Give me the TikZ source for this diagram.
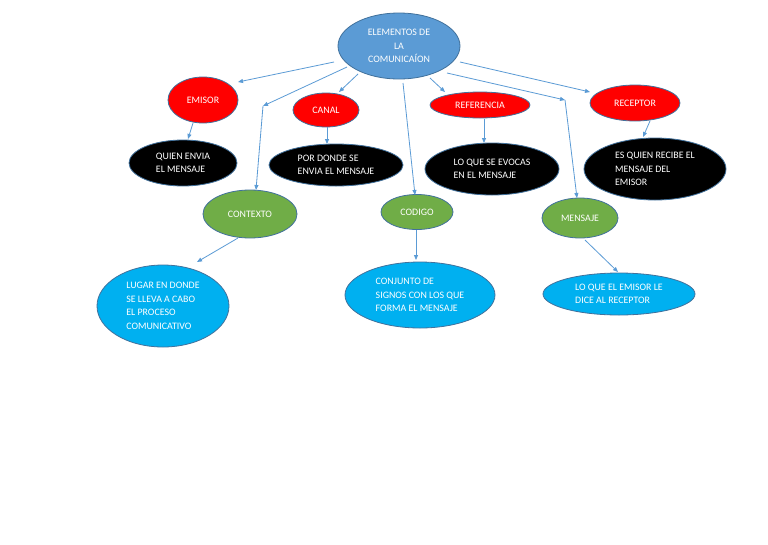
\documentclass[tikz,border=0pt]{standalone}
\usepackage{fontspec}
\setmainfont{Carlito}
\usetikzlibrary{arrows.meta,calc,shapes.geometric}
\definecolor{topblue}{HTML}{5B9BD5}
\definecolor{edgeblue}{HTML}{41719C}
\definecolor{arrblue}{HTML}{5B9BD5}
\definecolor{redf}{HTML}{FF0000}
\definecolor{greenf}{HTML}{70AD47}
\definecolor{cyanf}{HTML}{00B0F0}
\tikzset{
  ell/.style={ellipse, draw=edgeblue, line width=0.8pt, inner sep=0pt, text=white,
    font=\fontsize{9.9}{13.5}\selectfont, align=left},
  ctr/.style={ell, align=center},
  arr/.style={draw=arrblue, line width=0.8pt, -{Triangle[length=5pt,width=4pt]}},
  seg/.style={draw=arrblue, line width=0.8pt}
}
\begin{document}
\begin{tikzpicture}[x=1pt,y=-1pt]
\useasboundingbox (0,0) rectangle (768,544);
\fill[white] (0,0) rectangle (768,544);
% main
\node[ctr, fill=topblue, minimum width=122, minimum height=66] (top) at (399,46) {ELEMENTOS DE\\LA\\COMUNICAÍON};
% red
\node[ctr, fill=redf, minimum width=70, minimum height=46] (emisor) at (203,100) {EMISOR};
\node[ctr, fill=redf, minimum width=66, minimum height=34] (canal) at (326,110) {CANAL};
\node[ctr, fill=redf, minimum width=100, minimum height=26] (referencia) at (480,105) {REFERENCIA};
\node[ctr, fill=redf, minimum width=90, minimum height=36] (receptor) at (635,103) {RECEPTOR};
% black
\node[ell, fill=black, minimum width=108, minimum height=46] (quien) at (183,163) {QUIEN ENVIA\\EL MENSAJE};
\node[ell, fill=black, minimum width=134, minimum height=42] (pordonde) at (336,165) {POR DONDE SE\\ENVIA EL MENSAJE};
\node[ell, fill=black, minimum width=134, minimum height=52] (evocas) at (492,169) {LO QUE SE EVOCAS\\EN EL MENSAJE};
\node[ell, fill=black, minimum width=142, minimum height=62] (recibe) at (655,169) {ES QUIEN RECIBE EL\\MENSAJE DEL\\EMISOR};
% green
\node[ctr, fill=greenf, minimum width=94, minimum height=48] (contexto) at (250,214) {CONTEXTO};
\node[ctr, fill=greenf, minimum width=72, minimum height=35] (codigo) at (417,212) {CODIGO};
\node[ctr, fill=greenf, minimum width=76, minimum height=40] (mensaje) at (580,218) {MENSAJE};
% cyan
\node[ell, fill=cyanf, minimum width=132, minimum height=82] (lugar) at (163,306) {LUGAR EN DONDE\\SE LLEVA A CABO\\EL PROCESO\\COMUNICATIVO};
\node[ell, fill=cyanf, minimum width=150, minimum height=66] (conjunto) at (420,295) {CONJUNTO DE\\SIGNOS CON LOS QUE\\FORMA EL MENSAJE};
\node[ell, fill=cyanf, minimum width=152, minimum height=42] (loque) at (619,294) {LO QUE EL EMISOR LE\\DICE AL RECEPTOR};
% elbow points
\coordinate (elbowX) at (263,106);
\coordinate (elbowM) at (565,100);
% connectors from main
\draw[arr] ($(top)+(-65,16)$) -- ($(emisor)+(35,-18)$);
\draw[arr] ($(top)+(-52,21)$) -- (elbowX);
\draw[arr] (elbowX) -- ($(contexto)+(6,-24)$);
\draw[arr] ($(top)+(-41,28)$) -- ($(canal)+(13,-18)$);
\draw[arr] ($(top)+(4,37)$) -- ($(codigo)+(-2,-17)$);
\draw[arr] ($(top)+(31,32)$) -- ($(referencia)+(-35,-13)$);
\draw[arr] ($(top)+(48,27)$) -- (elbowM);
\draw[arr] (elbowM) -- ($(mensaje)+(-3,-20)$);
\draw[arr] ($(top)+(61,16)$) -- ($(receptor)+(-45,-11)$);
% second level
\draw[arr] ($(emisor)+(-10,23)$) -- ($(quien)+(5,-24)$);
\draw[arr] ($(canal)+(1,17)$) -- ($(pordonde)+(-9,-21)$);
\draw[arr] ($(referencia)+(4,14)$) -- ($(evocas)+(-8,-26)$);
\draw[arr] ($(receptor)+(15,18)$) -- ($(recibe)+(-12,-32)$);
\draw[arr] ($(contexto)+(-12,24)$) -- ($(lugar)+(34,-44)$);
\draw[arr] ($(codigo)+(-1,18)$) -- ($(conjunto)+(-4,-35)$);
\draw[arr] ($(mensaje)+(5,22)$) -- ($(loque)+(-1,-22)$);
\end{tikzpicture}
\end{document}
